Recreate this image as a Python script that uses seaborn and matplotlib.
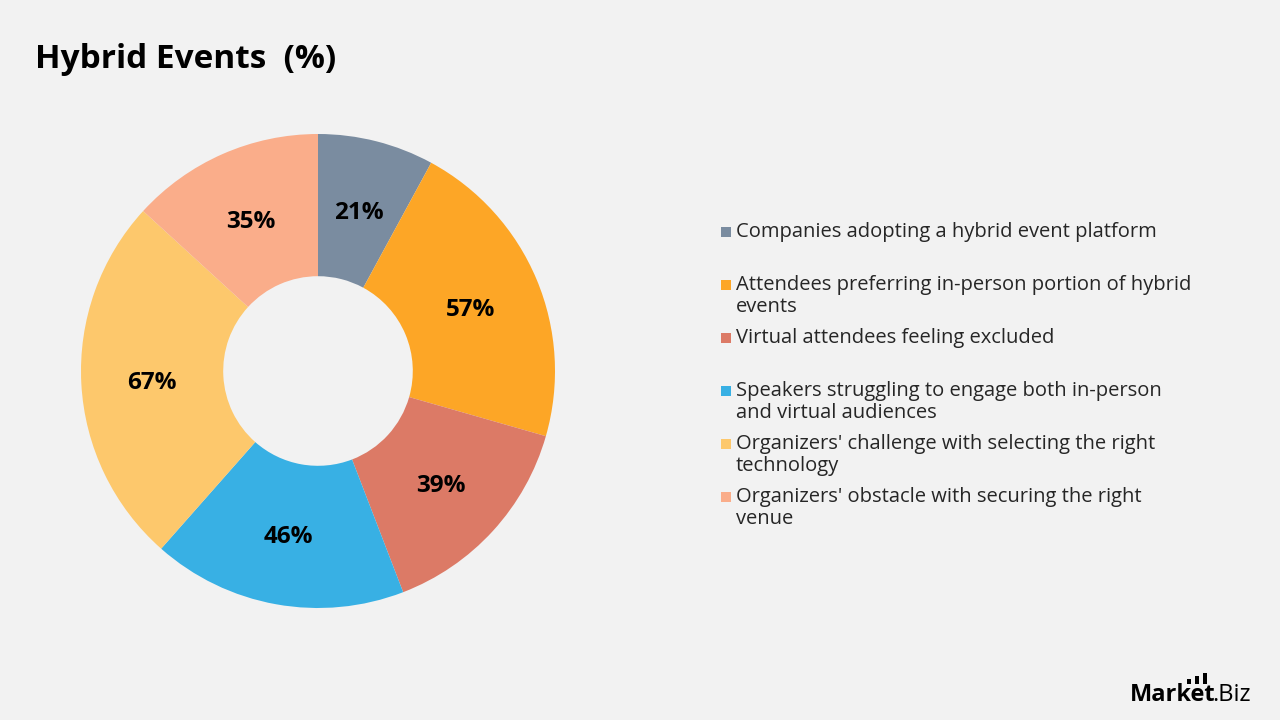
import matplotlib
matplotlib.use("Agg")
import numpy as np
import matplotlib.pyplot as plt
from matplotlib.patches import Rectangle
import seaborn as sns

# data
categories = [
    "Companies adopting a hybrid event platform",
    "Attendees preferring in-person portion of hybrid\nevents",
    "Virtual attendees feeling excluded",
    "Speakers struggling to engage both in-person\nand virtual audiences",
    "Organizers' challenge with selecting the right\ntechnology",
    "Organizers' obstacle with securing the right\nvenue",
]
values = [21, 57, 39, 46, 67, 35]
colors = ["#7A8CA0", "#FDA626", "#DC7A66", "#38B0E4", "#FDC86C", "#FAAD8A"]

BG = "#F2F2F2"
sns.set_theme(style="white", palette=sns.color_palette(colors))
plt.rcParams["font.family"] = ["Open Sans", "DejaVu Sans"]

fig = plt.figure(figsize=(12.8, 7.2), dpi=100, facecolor=BG)

# donut: centre (318, 371) px, outer radius 237 px
cx, cy, r = 318, 371, 237
ax = fig.add_axes([(cx - r) / 1280, (720 - cy - r) / 720, 2 * r / 1280, 2 * r / 720])
ax.set_facecolor(BG)
wedges, texts = ax.pie(
    values, colors=sns.color_palette(colors), startangle=90, counterclock=False,
    radius=1, wedgeprops=dict(width=0.6, linewidth=0),
)
for w, v in zip(wedges, values):
    ang = np.deg2rad((w.theta1 + w.theta2) / 2)
    ax.text(0.70 * np.cos(ang), 0.70 * np.sin(ang) - 3 / r, f"{v}%", ha="center", va="center",
            fontsize=17.5, fontweight="bold", color="black")
ax.set_xlim(-1, 1)
ax.set_ylim(-1, 1)
ax.set_aspect("equal")
ax.axis("off")

# title
fig.text(35 / 1280, 1 - 60 / 720, "Hybrid Events  (%)", fontsize=24, fontweight="bold",
         ha="left", va="center", color="black")

# legend, one slot of 53 px per entry
y0 = 232
for i, (lab, col) in enumerate(zip(categories, colors)):
    y = y0 + 53 * i
    fig.patches.append(Rectangle((721 / 1280, 1 - (y + 5) / 720), 10 / 1280, 10 / 720,
                                 transform=fig.transFigure, facecolor=col, edgecolor="none"))
    fig.text(736 / 1280, 1 - (y - 10) / 720, lab, fontsize=14.5, ha="left", va="top",
             color="#262626", linespacing=1.12)

# logo
fig.text(1130 / 1280, 1 - 701 / 720, "Market", fontsize=17, fontweight="bold",
         ha="left", va="baseline", color="black")
fig.text(1212 / 1280, 1 - 701 / 720, ".Biz", fontsize=17, ha="left", va="baseline",
         color="black")
for bx, top in [(1187, 679), (1195, 676), (1203, 673)]:
    fig.patches.append(Rectangle((bx / 1280, 1 - 684 / 720), 4 / 1280, (684 - top) / 720,
                                 transform=fig.transFigure, facecolor="black",
                                 edgecolor="none"))

fig.savefig("out.png", dpi=100, facecolor=BG)
